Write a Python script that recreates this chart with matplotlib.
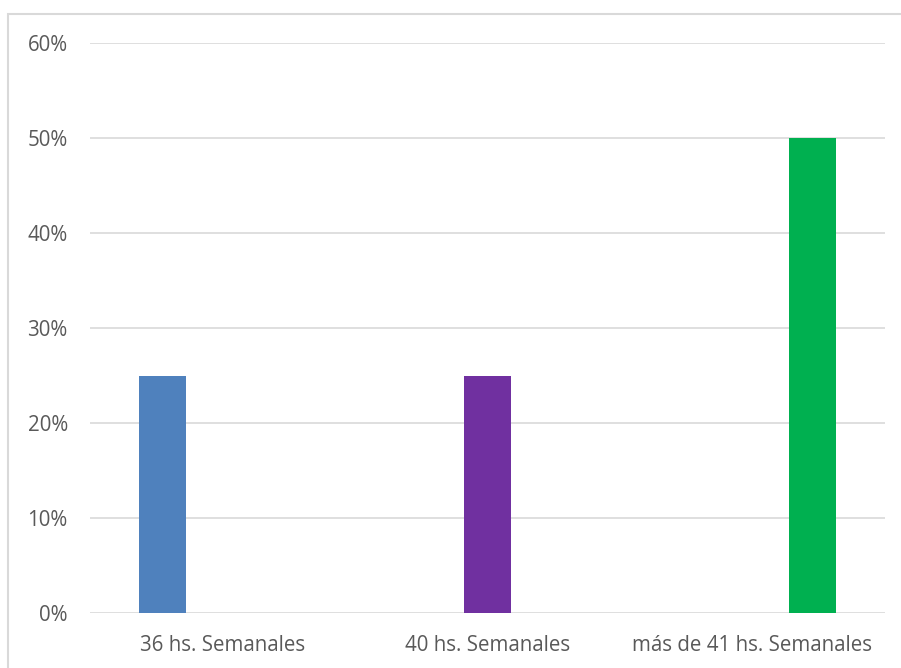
import matplotlib
matplotlib.use("Agg")
import matplotlib.pyplot as plt
from matplotlib.patches import Rectangle
from matplotlib.ticker import FuncFormatter

categories = ["36 hs. Semanales", "40 hs. Semanales", "más de 41 hs. Semanales"]
series_values = [
    [0.25, 0.0, 0.0],
    [0.0, 0.25, 0.0],
    [0.0, 0.0, 0.50],
]
series_colors = ["#4F81BD", "#7030A0", "#00B050"]
y_ticks = [0, 0.1, 0.2, 0.3, 0.4, 0.5, 0.6]

W, H = 901, 668
fig = plt.figure(figsize=(W / 100, H / 100), dpi=100)
fig.patch.set_facecolor("white")
fig.patches.append(Rectangle((8 / W, -0.1), 1.2, 1 - 14 / H + 0.1, transform=fig.transFigure,
                             fill=False, edgecolor="#D9D9D9", linewidth=1.5))

ax = fig.add_axes([90 / W, 1 - 613 / H, (885 - 90) / W, (613 - 43) / H])
bar_w = 0.177
offsets = [-0.225, 0.0, 0.225]
for s, vals in enumerate(series_values):
    xs = [i + offsets[s] for i in range(len(categories))]
    ax.bar(xs, vals, width=bar_w, color=series_colors[s], zorder=3)

ax.set_xlim(-0.5, len(categories) - 0.5)
ax.set_ylim(0, 0.6)
ax.set_yticks(y_ticks)
ax.yaxis.set_major_formatter(FuncFormatter(lambda v, p: f"{v*100:.0f}%"))
ax.set_xticks(range(len(categories)))
ax.set_xticklabels(categories)
ax.grid(axis="y", color="#D9D9D9", linewidth=1.2, zorder=0)
for sp in ax.spines.values():
    sp.set_visible(False)
ax.tick_params(axis="both", length=0, labelsize=14.8, labelcolor="#595959")
ax.tick_params(axis="y", pad=16)
ax.tick_params(axis="x", pad=16)
for lab in ax.get_xticklabels() + ax.get_yticklabels():
    lab.set_fontfamily("Open Sans")

fig.savefig("out.png", dpi=100)
